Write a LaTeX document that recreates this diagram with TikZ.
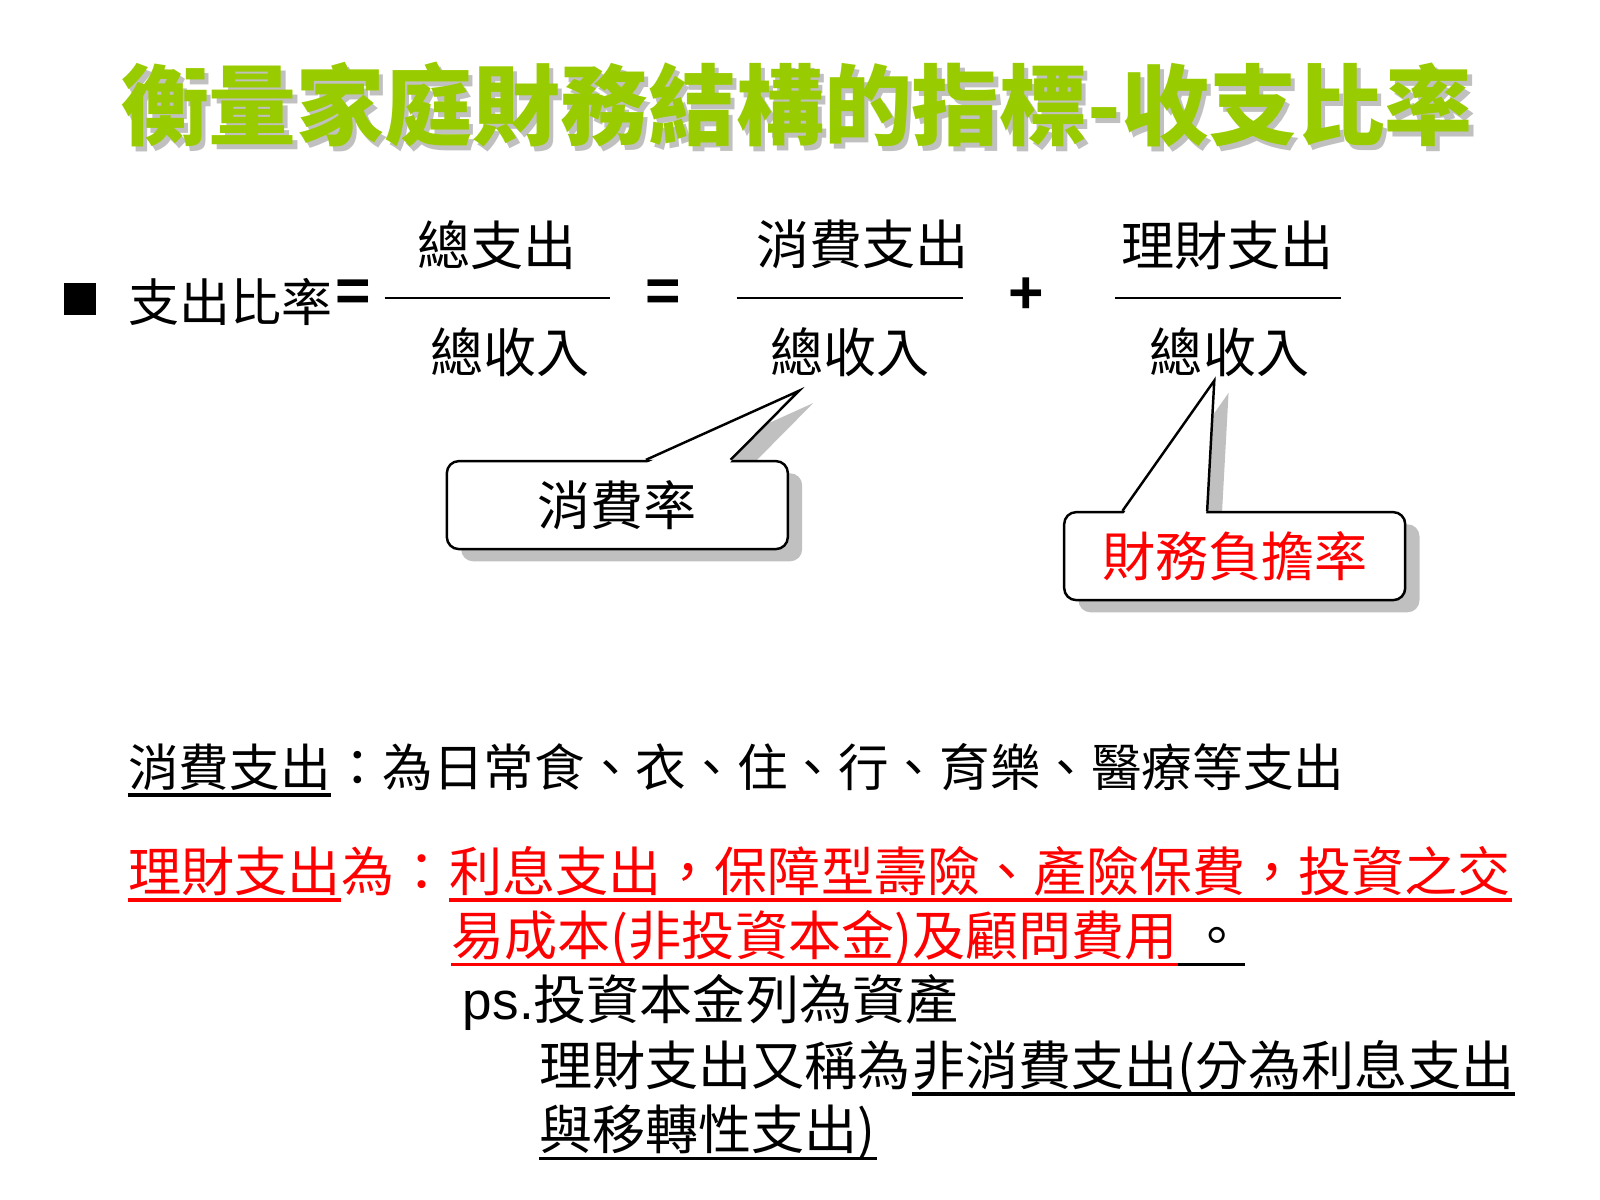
\documentclass[tikz,border=0pt]{standalone}
\usepackage{fontspec}
\setmainfont{Noto Sans CJK TC}
\newfontfamily\latinfont{Liberation Sans}
\usetikzlibrary{positioning,calc,shadows,backgrounds}
\definecolor{titlegreen}{HTML}{99CC00}
\definecolor{notered}{HTML}{FF0000}
\definecolor{shadowgray}{HTML}{C0C0C0}

\tikzset{
  txt/.style={inner sep=0pt, anchor=west, font=\fontsize{15.1}{18}\selectfont, text height=4.6mm, text depth=0.8mm},
  frac/.style={inner sep=0pt, font=\fontsize{15.1}{18}\selectfont},
  sign/.style={inner sep=0pt, font=\latinfont\bfseries\fontsize{17.3}{20}\selectfont},
  bar/.style={line width=0.7pt},
  uline/.style={line width=1pt},
  callbox/.style={draw, fill=white, rounded corners=1.2mm, minimum width=34.1mm, minimum height=8.8mm, line width=0.7pt,
    font=\fontsize{15.1}{18}\selectfont, drop shadow={shadow xshift=1.43mm, shadow yshift=-1.22mm, fill=shadowgray, opacity=1}},
}

\begin{document}
\begin{tikzpicture}[x=0.10204mm, y=-0.10204mm]
    \useasboundingbox (0,0) rectangle (1568,1176);

    % Title
    \node[font=\fontsize{25}{28}\selectfont\bfseries, text=shadowgray] (titleshadow) at (785,107) {衡量家庭財務結構的指標-收支比率};
    \node[font=\fontsize{25}{28}\selectfont\bfseries, text=titlegreen] (title) at (781,103) {衡量家庭財務結構的指標-收支比率};

    % Expense ratio
    \node[fill=black, minimum size=3.2mm, inner sep=0pt] (bullet) at (78,293) {};
    \node[txt, font=\fontsize{14.5}{18}\selectfont] (ratio) at (125,296) {支出比率};
    \node[sign] (eq1) at (346,290) {=};

    \draw[bar] (377,292) -- (598,292);
    \node[frac] (num1) at (487,240) {總支出};
    \node[frac] (den1) at (500,345) {總收入};

    \node[sign] (eq2) at (650,290) {=};

    \draw[bar] (722,292) -- (944,292);
    \node[frac] (num2) at (845,240) {消費支出};
    \node[frac] (den2) at (833,345) {總收入};

    \node[sign] (plus) at (1006,290) {+};

    \draw[bar] (1093,292) -- (1314,292);
    \node[frac] (num3) at (1203,240) {理財支出};
    \node[frac] (den3) at (1205,345) {總收入};

    % Callouts
    \node[callbox] (rate1) at (605,495) {消費率};
    \coordinate (tip1) at (783,383);
    \coordinate (b1l) at ($(rate1.north)+(28,0)$);
    \coordinate (b1r) at ($(rate1.north)+(111,0)$);
    \begin{scope}[on background layer]
        \fill[shadowgray] ($(b1l)+(14,12)$) -- ($(tip1)+(14,12)$) -- ($(b1r)+(14,12)$) -- cycle;
    \end{scope}
    \fill[white] ($(b1l)+(1,3)$) -- (tip1) -- ($(b1r)+(-1,3)$) -- cycle;
    \draw[line width=0.7pt] (b1l) -- (tip1) -- (b1r);

    \node[callbox, text=notered] (rate2) at (1210,545) {財務負擔率};
    \coordinate (tip2) at (1190,373);
    \coordinate (b2l) at ($(rate2.north)+(-110,0)$);
    \coordinate (b2r) at ($(rate2.north)+(-27,0)$);
    \begin{scope}[on background layer]
        \fill[shadowgray] ($(b2l)+(14,12)$) -- ($(tip2)+(14,12)$) -- ($(b2r)+(14,12)$) -- cycle;
    \end{scope}
    \fill[white] ($(b2l)+(1,3)$) -- (tip2) -- ($(b2r)+(-1,3)$) -- cycle;
    \draw[line width=0.7pt] (b2l) -- (tip2) -- (b2r);

    % Consumption expense
    \node[txt, font=\fontsize{14.4}{18}\selectfont] (consume) at (125,752) {消費支出};
    \node[txt, font=\fontsize{14.4}{18}\selectfont, right=0pt of consume] (consumedef) {：為日常食、衣、住、行、育樂、醫療等支出};
    \draw[uline] (consume.south west) -- (consume.south east);

    % Financial expense
    \node[txt, text=notered] (finexp) at (125,855) {理財支出};
    \node[txt, text=notered, right=0pt of finexp] (finis) {為：};
    \node[txt, text=notered, right=0pt of finis] (findef1) {利息支出，保障型壽險、產險保費，投資之交};
    \node[txt, text=notered] (findef2) at (442,918) {易成本(非投資本金)及顧問費用};
    \node[txt, right=0pt of findef2] (period) {\ 。};
    \draw[uline, notered] (finexp.south west) -- (finexp.south east);
    \draw[uline, notered] (findef1.south west) -- (findef1.south east);
    \draw[uline, notered] (findef2.south west) -- (findef2.south east);
    \draw[uline] (period.south west) -- (period.south east);

    % Notes
    \node[txt] (psnote) at (453,980) {{\latinfont ps.}投資本金列為資產};
    \node[txt] (alias) at (528,1045) {理財支出又稱為};
    \node[txt, right=0pt of alias] (nonconsume) {非消費支出(分為利息支出};
    \node[txt] (transfer) at (528,1108) {與移轉性支出)};
    \draw[uline] (nonconsume.south west) -- (nonconsume.south east);
    \draw[uline] (transfer.south west) -- (transfer.south east);
\end{tikzpicture}
\end{document}
